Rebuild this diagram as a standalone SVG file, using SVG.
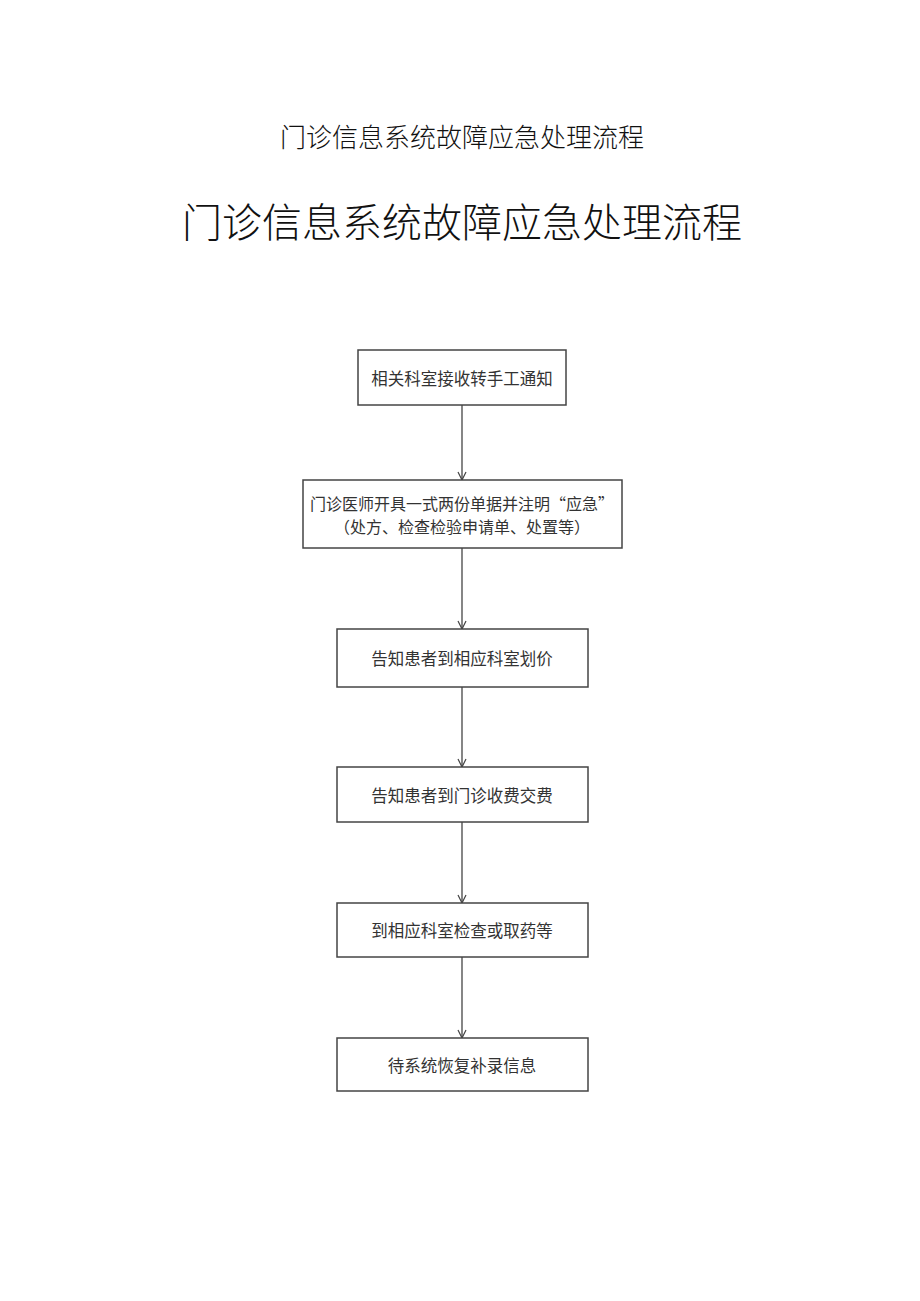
<svg xmlns="http://www.w3.org/2000/svg" width="920" height="1301" viewBox="0 0 920 1301">
<style>
.t{font-family:"Liberation Serif","Noto Sans CJK SC",serif;fill:#111;text-anchor:middle;font-weight:300}
.box rect{fill:#fff;stroke:#444;stroke-width:1.5}
.box text{font-family:"Noto Sans CJK SC",sans-serif;font-size:16.5px;fill:#333;text-anchor:middle;dominant-baseline:central}
.box text.s{font-size:16px}
.conn line{stroke:#444;stroke-width:1.3}
</style>
<defs>
<marker id="arr" markerWidth="10" markerHeight="10" refX="9" refY="5" orient="auto" markerUnits="userSpaceOnUse">
<path d="M1,1 L9,5 L1,9" fill="none" stroke="#444" stroke-width="1.2"/>
</marker>
</defs>
<rect width="920" height="1301" fill="#fff"/>
<text class="t" x="462" y="147" font-size="26">门诊信息系统故障应急处理流程</text>
<text class="t" x="462" y="237" font-size="40">门诊信息系统故障应急处理流程</text>
<g class="conn">
<line x1="462" y1="405" x2="462" y2="480" marker-end="url(#arr)"/>
<line x1="462" y1="548" x2="462" y2="629" marker-end="url(#arr)"/>
<line x1="462" y1="687" x2="462" y2="767" marker-end="url(#arr)"/>
<line x1="462" y1="822" x2="462" y2="903" marker-end="url(#arr)"/>
<line x1="462" y1="957" x2="462" y2="1038" marker-end="url(#arr)"/>
</g>
<g id="n1" class="box"><rect x="358" y="350" width="208" height="55"/><text x="462" y="378">相关科室接收转手工通知</text></g>
<g id="n2" class="box"><rect x="303" y="480" width="319" height="68"/><text class="s" x="462" y="503">门诊医师开具一式两份单据并注明“应急”</text><text class="s" x="462" y="526">（处方、检查检验申请单、处置等）</text></g>
<g id="n3" class="box"><rect x="337" y="629" width="251" height="58"/><text x="462" y="658">告知患者到相应科室划价</text></g>
<g id="n4" class="box"><rect x="337" y="767" width="251" height="55"/><text x="462" y="795">告知患者到门诊收费交费</text></g>
<g id="n5" class="box"><rect x="337" y="903" width="251" height="54"/><text x="462" y="930">到相应科室检查或取药等</text></g>
<g id="n6" class="box"><rect x="337" y="1038" width="251" height="53"/><text x="462" y="1065">待系统恢复补录信息</text></g>
</svg>
